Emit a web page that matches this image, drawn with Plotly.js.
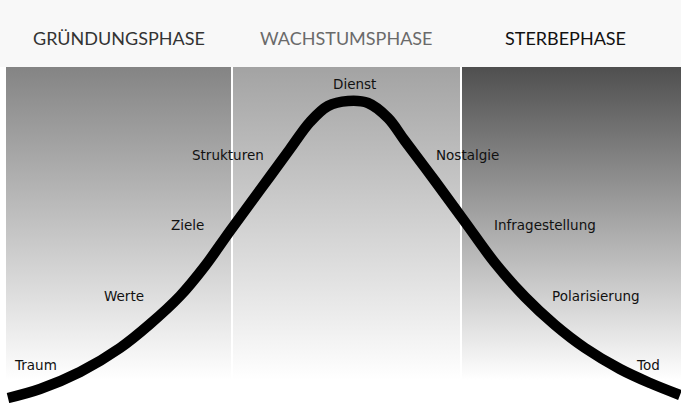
<!DOCTYPE html>
<html>
<head>
<meta charset="utf-8">
<script src="https://cdn.plot.ly/plotly-3.0.1.min.js"></script>
<style>html,body{margin:0;padding:0;background:#fff;}#chart{width:681px;height:403px;}</style>
</head>
<body>
<div id="chart"></div>
<script>
// Phase panels (x extent, top colour of vertical gradient)
const phaseNames = ["GRÜNDUNGSPHASE", "WACHSTUMSPHASE", "STERBEPHASE"];
const phaseStart = [6, 233, 462];
const phaseEnd = [231, 460, 681];
const phaseTopColor = ["#848484", "#a3a3a3", "#4f4f4f"];
const phaseTitleColor = ["#333333", "#6a6a6a", "#111111"];
const panelBottom = 23;
const panelTop = 336;

// Life-cycle curve
const curveX = [8, 40, 80, 120, 150, 180, 205, 230, 260, 290, 310, 328, 348, 368, 388, 405, 435, 465, 495, 525, 555, 585, 620, 650, 680];
const curveY = [5, 14, 31, 55, 79, 107, 137, 172, 213, 254, 281, 297, 302, 300, 285, 262, 222, 181, 140, 106, 78, 55, 34, 20, 8];

// Stage labels
const stageNames = ["Traum", "Werte", "Ziele", "Strukturen", "Dienst", "Nostalgie", "Infragestellung", "Polarisierung", "Tod"];
const stageX = [35, 124, 187, 228, 354, 467, 545, 596, 648];
const stageY = [38, 107, 178, 248, 319, 248, 178, 107, 38];

const traces = [];
for (let i = 0; i < phaseNames.length; i++) {
  traces.push({
    type: "scatter", mode: "lines", hoverinfo: "skip", showlegend: false,
    x: [phaseStart[i], phaseEnd[i], phaseEnd[i], phaseStart[i], phaseStart[i]],
    y: [panelBottom, panelBottom, panelTop, panelTop, panelBottom],
    fill: "toself", line: {width: 0, color: "rgba(0,0,0,0)"},
    fillgradient: {type: "vertical", start: panelBottom, stop: panelTop,
      colorscale: [[0, "#ffffff"], [1, phaseTopColor[i]]]}
  });
}
traces.push({
  type: "scatter", mode: "lines", showlegend: false, hoverinfo: "skip",
  x: curveX, y: curveY,
  line: {color: "#000000", width: 10.5, shape: "spline", smoothing: 1}
});

const annotations = [];
for (let i = 0; i < stageNames.length; i++) {
  annotations.push({x: stageX[i], y: stageY[i], xref: "x", yref: "y", text: stageNames[i],
    showarrow: false, font: {family: "'DejaVu Sans', sans-serif", size: 13.5, color: "#111111"}});
}
for (let i = 0; i < phaseNames.length; i++) {
  annotations.push({x: (phaseStart[i] + phaseEnd[i]) / 2 + (i === 2 ? -6 : 0), y: 365, xref: "x", yref: "y",
    text: phaseNames[i], showarrow: false,
    font: {family: "Lato, 'DejaVu Sans', sans-serif", size: 18, color: phaseTitleColor[i]}});
}

const layout = {
  width: 681, height: 403,
  margin: {l: 0, r: 0, t: 0, b: 0},
  paper_bgcolor: "#ffffff", plot_bgcolor: "#ffffff",
  xaxis: {range: [0, 681], visible: false, fixedrange: true},
  yaxis: {range: [0, 403], visible: false, fixedrange: true},
  shapes: [{type: "rect", xref: "paper", yref: "y", x0: 0, x1: 1, y0: panelTop, y1: 403,
    fillcolor: "#f8f8f8", line: {width: 0}, layer: "below"}],
  annotations: annotations
};
Plotly.newPlot("chart", traces, layout, {displayModeBar: false, staticPlot: true});
</script>
</body>
</html>
